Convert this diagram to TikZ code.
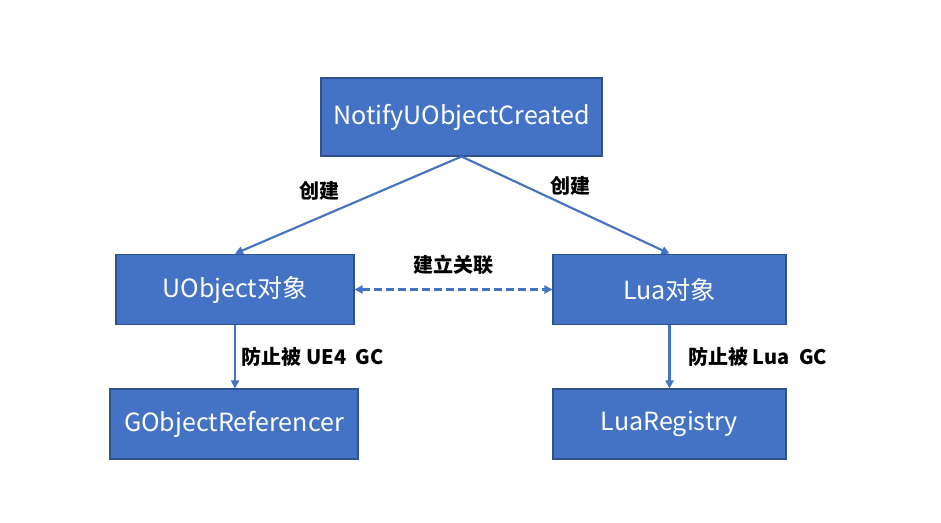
\documentclass[tikz,border=0pt]{standalone}
\usepackage{fontspec}
\setmainfont{Noto Sans CJK SC}
\usetikzlibrary{arrows.meta,positioning}
\definecolor{boxfill}{HTML}{4472C4}
\definecolor{boxline}{HTML}{2F528F}
\begin{document}
\begin{tikzpicture}[
  x=0.75pt, y=-0.75pt,
  every node/.style={align=center},
  box/.style={draw=boxline, fill=boxfill, line width=0.8pt, text=white, font=\fontsize{18.8}{22}\selectfont, minimum height=53pt, inner sep=2pt},
  lbl/.style={font=\bfseries\fontsize{15}{18}\selectfont},
  link/.style={draw=boxfill, line width=1.6pt, -{Triangle[length=6pt,width=6pt]}},
  >=Stealth
]
\useasboundingbox (0,0) rectangle (941,522);
\node[box, minimum width=210.75pt, minimum height=58.5pt] (notify) at (461.5,117) {NotifyUObjectCreated};
\node[box, minimum width=178.5pt] (uobj) at (235,289.5) {UObject对象};
\node[box, minimum width=174.75pt] (luaobj) at (669.5,289.5) {Lua对象};
\node[box, minimum width=186pt, minimum height=52.5pt] (gref) at (234,424) {GObjectReferencer};
\node[box, minimum width=174.75pt, minimum height=52.5pt] (luareg) at (669.5,424) {LuaRegistry};
\draw[link] (notify.south) -- node[lbl, pos=0.35, left=28pt]{创建} (uobj.north);
\draw[link] (notify.south) -- node[lbl, pos=0.3, right=16pt]{创建} (luaobj.north);
\draw[link, {Triangle[length=6pt,width=6pt]}-{Triangle[length=6pt,width=6pt]}, dash pattern=on 6pt off 3pt] (uobj.east) -- node[lbl, above=7pt]{建立关联} (luaobj.west);
\draw[link] (uobj.south) -- node[lbl, right=1pt]{防止被 UE4\ \ GC} (gref.north -| uobj.south);
\draw[link] (luaobj.south) -- node[lbl, right=10pt]{防止被 Lua\ \ GC} (luareg.north);
\end{tikzpicture}
\end{document}
